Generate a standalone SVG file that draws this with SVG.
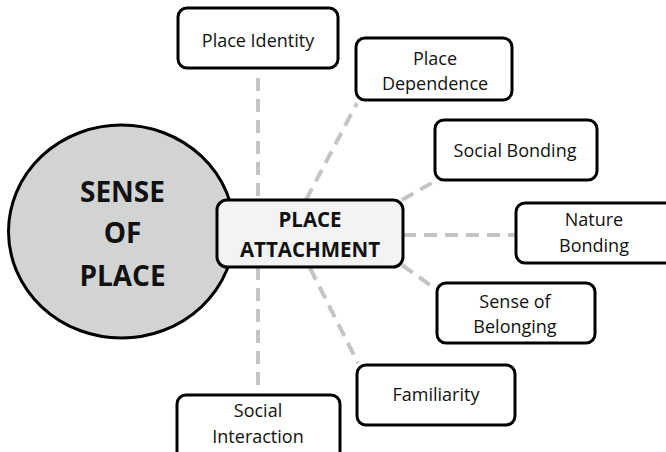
<svg xmlns="http://www.w3.org/2000/svg" width="666" height="452" viewBox="0 0 666 452">
  <style>
    .box { fill: #ffffff; stroke: #000000; stroke-width: 3; }
    .hub { fill: #f3f3f3; stroke: #000000; stroke-width: 3; }
    .lbl { font-family: "Open Sans", "Liberation Sans", sans-serif; font-size: 18px; fill: #111111; text-anchor: middle; }
    .big { font-family: "Open Sans", "Liberation Sans", sans-serif; font-weight: bold; fill: #111111; text-anchor: middle; }
    .link { stroke: #c4c4c4; stroke-width: 4; stroke-dasharray: 13 8; fill: none; }
  </style>
  <rect width="666" height="452" fill="#ffffff"/>

  <!-- dashed spokes from the central box -->
  <g id="connectors">
    <line class="link" x1="258" y1="78" x2="258" y2="390"/>
    <line class="link" x1="306" y1="200" x2="357" y2="103"/>
    <line class="link" x1="402" y1="200" x2="437" y2="180"/>
    <line class="link" x1="403" y1="235" x2="516" y2="235"/>
    <line class="link" x1="402" y1="265" x2="437" y2="290"/>
    <line class="link" x1="310" y1="268" x2="358" y2="363"/>
  </g>

  <g id="sense-of-place">
    <ellipse cx="121.5" cy="231.5" rx="113" ry="106.5" fill="#d2d3d3" stroke="#000000" stroke-width="3"/>
    <text class="big" font-size="28" x="122.5" y="202">SENSE</text>
    <text class="big" font-size="28" x="122.5" y="243">OF</text>
    <text class="big" font-size="28" x="122.5" y="286">PLACE</text>
  </g>

  <g id="place-attachment">
    <rect class="hub" x="217" y="200" width="186" height="67" rx="10"/>
    <text class="big" font-size="20.5" x="310" y="227">PLACE</text>
    <text class="big" font-size="20.5" x="310" y="257">ATTACHMENT</text>
  </g>

  <g id="place-identity">
    <rect class="box" x="178" y="8" width="160" height="60" rx="9"/>
    <text class="lbl" x="258" y="47">Place Identity</text>
  </g>

  <g id="place-dependence">
    <rect class="box" x="356" y="38" width="156" height="62" rx="9"/>
    <text class="lbl" x="435" y="65">Place</text>
    <text class="lbl" x="435" y="90">Dependence</text>
  </g>

  <g id="social-bonding">
    <rect class="box" x="435" y="120" width="162" height="60" rx="9"/>
    <text class="lbl" x="515" y="157">Social Bonding</text>
  </g>

  <g id="nature-bonding">
    <rect class="box" x="516" y="203" width="160" height="60" rx="9"/>
    <text class="lbl" x="594" y="226">Nature</text>
    <text class="lbl" x="594" y="252">Bonding</text>
  </g>

  <g id="sense-of-belonging">
    <rect class="box" x="437" y="283" width="158" height="60" rx="9"/>
    <text class="lbl" x="515" y="308">Sense of</text>
    <text class="lbl" x="515" y="333">Belonging</text>
  </g>

  <g id="familiarity">
    <rect class="box" x="357" y="365" width="158" height="60" rx="9"/>
    <text class="lbl" x="436" y="401">Familiarity</text>
  </g>

  <g id="social-interaction">
    <rect class="box" x="177" y="395" width="163" height="70" rx="9"/>
    <text class="lbl" x="258" y="417">Social</text>
    <text class="lbl" x="258" y="443">Interaction</text>
  </g>
</svg>
